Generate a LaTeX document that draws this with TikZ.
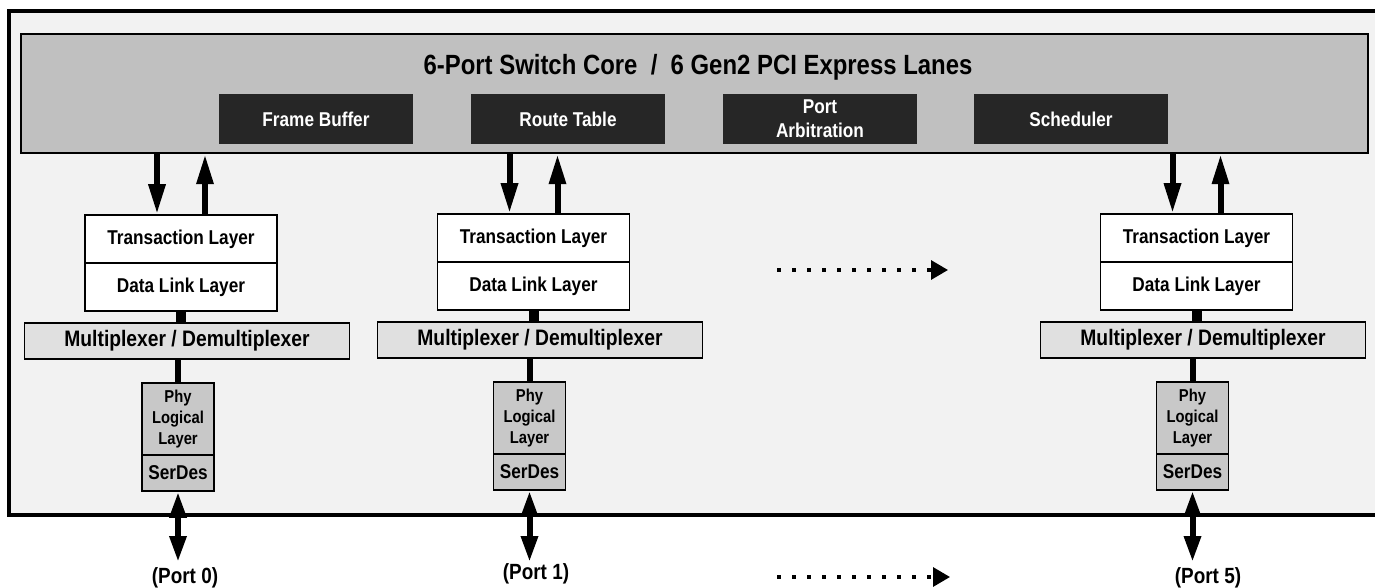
\documentclass[tikz,border=0pt]{standalone}
\usepackage{fontspec}
\setmainfont{Liberation Sans}[FakeStretch=0.86]
\usetikzlibrary{arrows.meta}
\definecolor{framebg}{HTML}{F2F2F2}
\definecolor{coregray}{HTML}{C0C0C0}
\definecolor{blockdark}{HTML}{262626}
\definecolor{muxgray}{HTML}{E0E0E0}
\definecolor{phygray}{HTML}{C8C8C8}
\tikzstyle{blk}    = [fill=blockdark, text=white, minimum width=97pt, minimum height=25pt, inner sep=0pt, align=center, font=\bfseries\fontsize{10}{12}\selectfont]
\tikzstyle{layer}  = [draw, fill=white, line width=.8pt, minimum width=96pt, minimum height=24pt, inner sep=0pt, font=\bfseries\fontsize{10}{12}\selectfont]
\tikzstyle{mux}    = [draw, fill=muxgray, line width=.8pt, minimum width=162.5pt, minimum height=18pt, inner sep=0pt, font=\bfseries\fontsize{11.2}{13}\selectfont]
\tikzstyle{phy}    = [draw, fill=phygray, line width=.8pt, minimum width=36pt, minimum height=36pt, inner sep=0pt, align=center, font=\bfseries\fontsize{8.6}{10.3}\selectfont]
\tikzstyle{serdes} = [phy, minimum height=18pt, font=\bfseries\fontsize{10}{12}\selectfont]
\tikzstyle{port}   = [inner sep=0pt, font=\bfseries\fontsize{11}{13}\selectfont]
\tikzstyle{bus}    = [line width=3pt, -{Triangle[length=15pt,width=8pt]}]
\tikzstyle{link}   = [line width=3pt, {Triangle[length=13pt,width=8pt]}-{Triangle[length=13pt,width=8pt]}]
\tikzstyle{more}   = [line width=1.6pt, dash pattern=on 2.2pt off 5.3pt, -{Triangle[length=8.5pt,width=9.5pt]}]

\begin{document}
\begin{tikzpicture}[x=.5pt,y=-.5pt]
      \clip (0,0) rectangle (1375,588);
      \draw[fill=framebg,line width=1.7pt] (9,11) rectangle (1395,515);
      % switch core
      \node[draw,fill=coregray,line width=1.2pt,minimum width=673.5pt,minimum height=59.5pt,inner sep=0pt] (core) at (694.5,93.5) {};
      \node[anchor=base,font=\bfseries\fontsize{13.9}{16}\selectfont] (title) at (698,75) {6-Port Switch Core~~/~~6 Gen2 PCI Express Lanes};
      \node[blk] (fbuf)  at (316 ,119) {Frame Buffer};
      \node[blk] (rtab)  at (568 ,119) {Route Table};
      \node[blk] (parb)  at (820 ,119) {Port\\Arbitration};
      \node[blk] (sched) at (1071,119) {Scheduler};
      % port 0
      \node[layer]  (tl0)  at (181  ,239) {Transaction Layer};
      \node[layer]  (dl0)  at (181  ,287) {Data Link Layer};
      \node[mux]    (mux0) at (187  ,341) {Multiplexer / Demultiplexer};
      \node[phy]    (phy0) at (178  ,419) {Phy\\Logical\\Layer};
      \node[serdes] (sd0)  at (178  ,473) {SerDes};
      \node[port]   (p0)   at (185  ,578) {(Port 0)};
      % port 1
      \node[layer]  (tl1)  at (533.5,238) {Transaction Layer};
      \node[layer]  (dl1)  at (533.5,286) {Data Link Layer};
      \node[mux]    (mux1) at (540  ,340) {Multiplexer / Demultiplexer};
      \node[phy]    (phy1) at (529.5,418) {Phy\\Logical\\Layer};
      \node[serdes] (sd1)  at (529.5,472) {SerDes};
      \node[port]   (p1)   at (536  ,574) {(Port 1)};
      % port 5
      \node[layer]  (tl5)  at (1196.5,238) {Transaction Layer};
      \node[layer]  (dl5)  at (1196.5,286) {Data Link Layer};
      \node[mux]    (mux5) at (1203  ,340) {Multiplexer / Demultiplexer};
      \node[phy]    (phy5) at (1192.5,418) {Phy\\Logical\\Layer};
      \node[serdes] (sd5)  at (1192.5,472) {SerDes};
      \node[port]   (p5)   at (1208  ,578) {(Port 5)};
      % core <-> transaction layers
      \draw[bus] ([xshift=-12pt]tl0.north |- core.south) -- ([xshift=-12pt]tl0.north);
      \draw[bus] ([xshift=12pt]tl0.north) -- ([xshift=12pt]tl0.north |- core.south);
      \draw[bus] ([xshift=-12pt]tl1.north |- core.south) -- ([xshift=-12pt]tl1.north);
      \draw[bus] ([xshift=12pt]tl1.north) -- ([xshift=12pt]tl1.north |- core.south);
      \draw[bus] ([xshift=-12pt]tl5.north |- core.south) -- ([xshift=-12pt]tl5.north);
      \draw[bus] ([xshift=12pt]tl5.north) -- ([xshift=12pt]tl5.north |- core.south);
      % inside the stacks
      \draw[line width=5pt] (dl0.south) -- (dl0.south |- mux0.north);
      \draw[line width=5pt] (dl1.south) -- (dl1.south |- mux1.north);
      \draw[line width=5pt] (dl5.south) -- (dl5.south |- mux5.north);
      \draw[line width=3pt] (phy0.north |- mux0.south) -- (phy0.north);
      \draw[line width=3pt] (phy1.north |- mux1.south) -- (phy1.north);
      \draw[line width=3pt] (phy5.north |- mux5.south) -- (phy5.north);
      % lanes
      \coordinate (lane0) at (178   ,562);
      \coordinate (lane1) at (529.5 ,562);
      \coordinate (lane5) at (1192.5,562);
      \draw[link] (sd0.south) -- (lane0);
      \draw[link] (sd1.south) -- (lane1);
      \draw[link] (sd5.south) -- (lane5);
      % ports 2 to 4
      \coordinate (dotsA) at (777,270);
      \coordinate (dotsB) at (948,270);
      \coordinate (dotsC) at (777,577);
      \coordinate (dotsD) at (950,577);
      \draw[more] (dotsA) -- (dotsB);
      \draw[more] (dotsC) -- (dotsD);
\end{tikzpicture}
\end{document}
